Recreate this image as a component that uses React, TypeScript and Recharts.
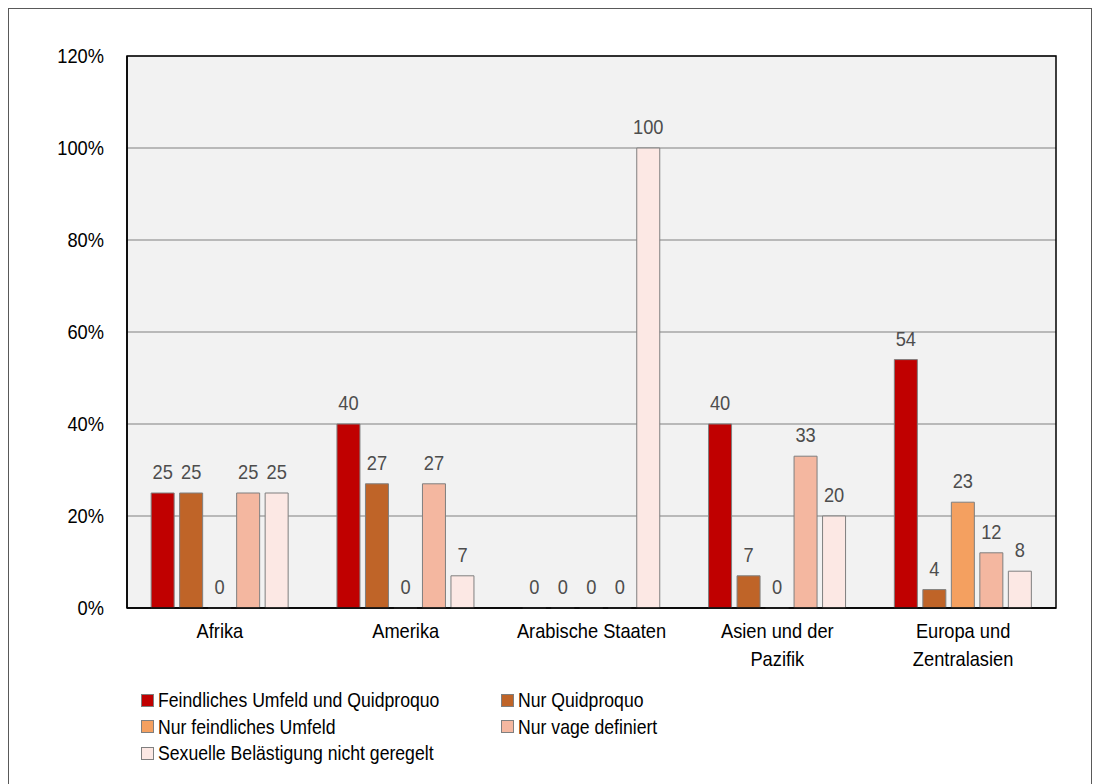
import React from "react";
import {
  BarChart,
  Bar,
  XAxis,
  YAxis,
  CartesianGrid,
  Legend,
  LabelList,
  ReferenceArea,
} from "recharts";

const FONT = "'Liberation Sans', Arial, sans-serif";
const SX = 0.87; // the original text is horizontally condensed

const categories = [
  "Afrika",
  "Amerika",
  "Arabische Staaten",
  "Asien und der\nPazifik",
  "Europa und\nZentralasien",
];
const feindlichUndQuid = [25, 40, 0, 40, 54];
const nurQuid = [25, 27, 0, 7, 4];
const nurFeindlich = [0, 0, 0, 0, 23];
const nurVage = [25, 27, 0, 33, 12];
const nichtGeregelt = [25, 7, 100, 20, 8];
const yTicks = [0, 20, 40, 60, 80, 100, 120];

const seriesNames = [
  "Feindliches Umfeld und Quidproquo",
  "Nur Quidproquo",
  "Nur feindliches Umfeld",
  "Nur vage definiert",
  "Sexuelle Belästigung nicht geregelt",
];
const seriesColors = ["#c00000", "#bf6428", "#f4a060", "#f4b7a0", "#fce8e4"];

const data = categories.map((c, i) => ({
  name: c,
  s0: feindlichUndQuid[i],
  s1: nurQuid[i],
  s2: nurFeindlich[i],
  s3: nurVage[i],
  s4: nichtGeregelt[i],
}));

const CategoryTick = (props: any) => {
  const { x, y, payload } = props;
  const lines = String(payload.value).split("\n");
  return (
    <g>
      {lines.map((l, i) => (
        <text
          key={i}
          transform={`translate(${x} ${y + 30 + i * 28}) scale(${SX} 1)`}
          textAnchor="middle"
          fill="#000"
          fontSize={21}
          fontFamily={FONT}
        >
          {l}
        </text>
      ))}
    </g>
  );
};

const PercentTick = (props: any) => {
  const { x, y, payload } = props;
  return (
    <text
      transform={`translate(${x} ${y}) scale(${SX} 1)`}
      textAnchor="end"
      dy="0.355em"
      fill="#000"
      fontSize={21}
      fontFamily={FONT}
    >
      {`${payload.value}%`}
    </text>
  );
};

const ValueLabel = (props: any) => {
  const { x, y, width, value } = props;
  if (value === undefined || value === null) return null;
  return (
    <text
      transform={`translate(${Number(x) + Number(width) / 2} ${Number(y) - 14}) scale(${SX} 1)`}
      textAnchor="middle"
      fill="#4d4d4d"
      fontSize={21}
      fontFamily={FONT}
    >
      {value}
    </text>
  );
};

const LegendContent = (props: any) => {
  const { payload } = props;
  return (
    <div
      style={{
        display: "grid",
        gridTemplateColumns: "360px 300px",
        fontFamily: FONT,
        fontSize: 21,
        lineHeight: "26.5px",
        color: "#000",
      }}
    >
      {(payload || []).map((p: any) => (
        <div key={p.value} style={{ display: "flex", alignItems: "center", whiteSpace: "nowrap" }}>
          <span
            style={{
              display: "inline-block",
              width: 11,
              height: 11,
              background: p.color,
              border: "1px solid #7f7f7f",
              marginRight: 4,
              flex: "none",
            }}
          />
          <span style={{ display: "inline-block", transform: "scaleX(0.84)", transformOrigin: "0 50%" }}>
            {p.value}
          </span>
        </div>
      ))}
    </div>
  );
};

export default function App() {
  return (
    <div
      style={{
        width: 1082,
        height: 780,
        border: "1px solid #595959",
        background: "#fff",
      }}
    >
      <BarChart
        width={1082}
        height={775}
        data={data}
        margin={{ top: 47, right: 35, bottom: 116, left: 58 }}
        barCategoryGap="13%"
        barGap={5.5}
      >
        <CartesianGrid vertical={false} stroke="#808080" strokeWidth={1} fill="#f2f2f2" />
        <XAxis
          dataKey="name"
          height={60}
          tickLine={false}
          tickSize={0}
          tickMargin={0}
          axisLine={{ stroke: "#000", strokeWidth: 1.5 }}
          tick={<CategoryTick />}
          interval={0}
        />
        <YAxis
          width={60}
          domain={[0, 120]}
          ticks={yTicks}
          tickLine={false}
          tickSize={0}
          tickMargin={23}
          axisLine={{ stroke: "#000", strokeWidth: 1.5 }}
          tick={<PercentTick />}
        />
        <Legend
          layout="horizontal"
          verticalAlign="middle"
          align="center"
          content={<LegendContent />}
          wrapperStyle={{ left: 132, top: 678, width: 700 }}
        />
        {seriesNames.map((n, i) => (
          <Bar
            key={n}
            dataKey={`s${i}`}
            name={n}
            fill={seriesColors[i]}
            stroke="#7f7f7f"
            strokeWidth={1}
            minPointSize={0.01}
            isAnimationActive={false}
          >
            <LabelList dataKey={`s${i}`} content={<ValueLabel />} />
          </Bar>
        ))}
        <ReferenceArea y1={0} y2={120} fill="none" stroke="#000" strokeWidth={1.5} />
      </BarChart>
    </div>
  );
}
